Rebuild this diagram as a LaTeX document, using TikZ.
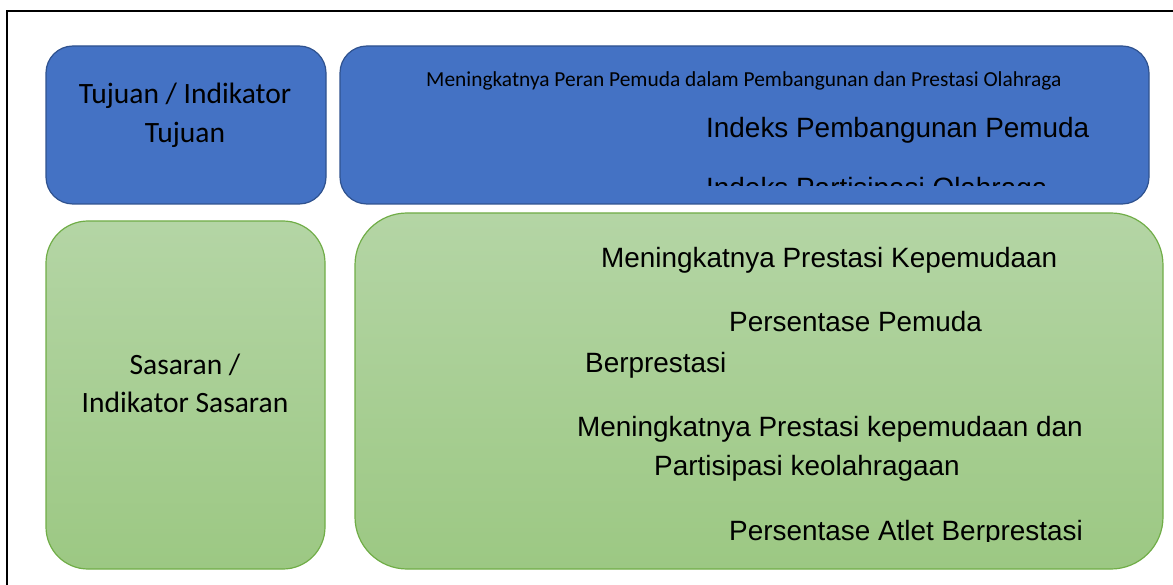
\documentclass[tikz,border=0pt]{standalone}
\usepackage{fontspec}
\setmainfont{Carlito}
\newfontfamily\arialf{Liberation Sans}
\definecolor{bluefill}{HTML}{4472C4}
\definecolor{blueline}{HTML}{2F528F}
\definecolor{greentop}{HTML}{B4D5A5}
\definecolor{greenbot}{HTML}{9CC883}
\definecolor{greenline}{HTML}{70AD47}
\tikzset{
  bluebox/.style={fill=bluefill, draw=blueline, line width=1.2pt},
  greenbox/.style={top color=greentop, bottom color=greenbot, draw=greenline, line width=1.2pt},
  cal/.style={font=\fontsize{29.5}{39}\selectfont, text=black, align=center, inner sep=0pt},
  calsmall/.style={font=\fontsize{21.4}{24}\selectfont, text=black, inner sep=0pt, anchor=base west},
  ari/.style={font=\arialf\fontsize{27.9}{32}\selectfont, text=black, inner sep=0pt, anchor=base west},
}
\begin{document}
\begin{tikzpicture}[x=1pt,y=-1pt]
\useasboundingbox (0,0) rectangle (1173,585);
% frame
\draw[line width=2pt] (7,585) -- (7,11) -- (1173,11);
% boxes
\draw[bluebox, rounded corners=27pt] (46,46) rectangle (326,204);
\draw[bluebox, rounded corners=27pt] (340,46) rectangle (1149,204);
\draw[greenbox, rounded corners=42pt] (46,221) rectangle (325,569);
\draw[greenbox, rounded corners=52pt] (355,213) rectangle (1163,569);
% left texts
\node[cal, anchor=base] (tj1) at (185,104) {Tujuan / Indikator};
\node[cal, anchor=base] (tj2) at (185,143) {Tujuan};
\node[cal, anchor=base] (ss1) at (185,374) {Sasaran /};
\node[cal, anchor=base] (ss2) at (185,412) {Indikator Sasaran};
% blue right texts
\node[calsmall] (t0) at (426,87) {Meningkatnya Peran Pemuda dalam Pembangunan dan Prestasi Olahraga};
\node[ari] (t1) at (706,138) {Indeks Pembangunan Pemuda};
\begin{scope}
\clip (340,46) rectangle (1149,185.5);
\node[ari] (t2) at (706,198) {Indeks Partisipasi Olahraga};
\end{scope}
% green right texts
\node[ari] (g1) at (601,268) {Meningkatnya Prestasi Kepemudaan};
\node[ari] (g2) at (729,332) {Persentase Pemuda};
\node[ari] (g3) at (585,372) {Berprestasi};
\node[ari] (g4) at (577,436) {Meningkatnya Prestasi kepemudaan dan};
\node[ari] (g5) at (654,475) {Partisipasi keolahragaan};
\begin{scope}
\clip (355,213) rectangle (1163,541.5);
\node[ari] (g6) at (729,540) {Persentase Atlet Berprestasi};
\end{scope}
\end{tikzpicture}
\end{document}
